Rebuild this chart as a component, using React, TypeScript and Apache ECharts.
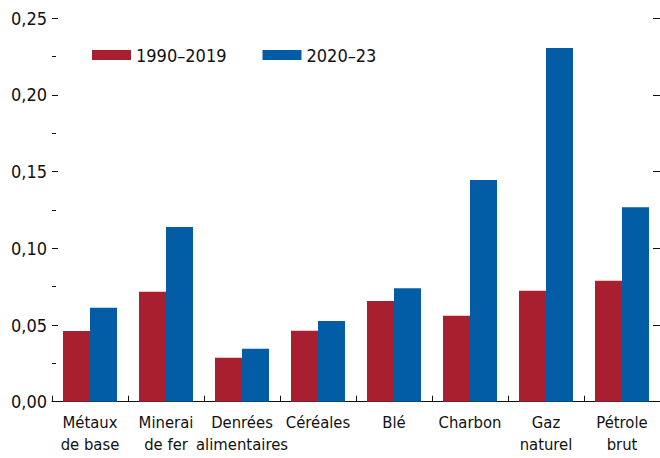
import React, { useEffect, useRef } from "react";
import * as echarts from "echarts";

const categories = [
  "Métaux\nde base",
  "Minerai\nde fer",
  "Denrées\nalimentaires",
  "Céréales",
  "Blé",
  "Charbon",
  "Gaz\nnaturel",
  "Pétrole\nbrut",
];
const series1990 = [0.0461, 0.0717, 0.0287, 0.0463, 0.0657, 0.0561, 0.0724, 0.0789];
const series2020 = [0.0613, 0.1139, 0.0346, 0.0526, 0.0739, 0.1446, 0.2306, 0.1268];
const seriesNames = ["1990–2019", "2020–23"];
const colors = ["#A81F2F", "#035CA6"];

const FONT = "'DejaVu Sans Condensed', 'Liberation Sans Narrow', sans-serif";

export default function App() {
  const ref = useRef<HTMLDivElement>(null);
  useEffect(() => {
    if (!ref.current) return;
    const chart = echarts.init(ref.current, undefined, { renderer: "svg" });
    const fmt = (v: number) => v.toFixed(2).replace(".", ",");
    chart.setOption({
      animation: false,
      textStyle: { fontFamily: FONT },
      color: colors,
      grid: { left: 52, right: -4, top: 18.3, bottom: 56.3, containLabel: false },
      legend: {
        left: 87,
        top: 41,
        itemWidth: 39,
        itemHeight: 10,
        itemGap: 36,
        icon: "rect",
        textStyle: { fontFamily: FONT, fontSize: 18, color: "#111" },
        data: seriesNames,
      },
      xAxis: {
        type: "category",
        data: categories,
        axisLine: { show: true, lineStyle: { color: "#111", width: 1 } },
        axisTick: { show: true, inside: true, length: 6, lineStyle: { color: "#111" } },
        axisLabel: {
          fontFamily: FONT,
          fontSize: 16.5,
          color: "#111",
          lineHeight: 22,
          margin: 10,
          interval: 0,
        },
      },
      yAxis: [
        {
          type: "value",
          min: 0,
          max: 0.25,
          interval: 0.05,
          splitLine: { show: false },
          axisLine: { show: false },
          axisTick: { show: true, inside: true, length: 6, lineStyle: { color: "#111" } },
          minorTick: { show: true, splitNumber: 2, length: 4, lineStyle: { color: "#111" } },
          axisLabel: {
            fontFamily: FONT,
            fontSize: 18,
            color: "#111",
            margin: 5,
            formatter: fmt,
          },
        },
        {
          type: "value",
          position: "right",
          min: 0,
          max: 0.25,
          interval: 0.05,
          splitLine: { show: false },
          axisLine: { show: false },
          axisTick: { show: true, inside: true, length: 7, lineStyle: { color: "#111" } },
          axisLabel: { show: false },
        },
      ],
      series: [
        {
          name: seriesNames[0],
          type: "bar",
          data: series1990,
          barWidth: 27,
          barGap: "0%",
          itemStyle: { color: colors[0] },
        },
        {
          name: seriesNames[1],
          type: "bar",
          data: series2020,
          barWidth: 27,
          barGap: "0%",
          itemStyle: { color: colors[1] },
        },
      ],
    });
    return () => chart.dispose();
  }, []);
  return (
    <div
      ref={ref}
      style={{ position: "absolute", left: 0, top: 0, width: 660, height: 458 }}
    />
  );
}
